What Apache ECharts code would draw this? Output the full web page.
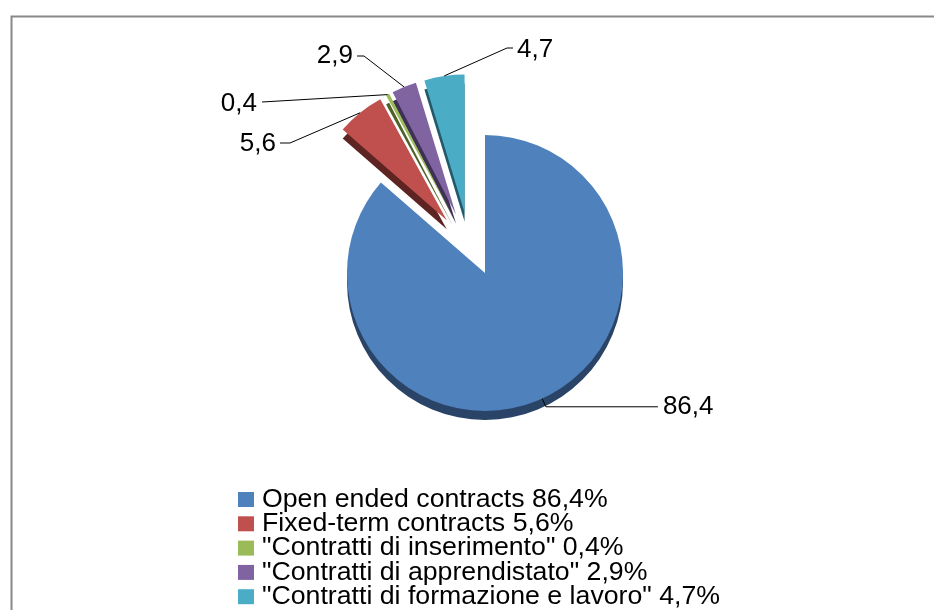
<!DOCTYPE html>
<html><head><meta charset="utf-8">
<script src="https://cdn.jsdelivr.net/npm/echarts@6/dist/echarts.min.js"></script>
<style>html,body{margin:0;padding:0;background:#fff}#c{width:934px;height:610px}</style>
</head><body><div id="c"></div>
<script>
// ---- data ----
const categories = [
  'Open ended contracts',
  'Fixed-term contracts',
  '"Contratti di inserimento"',
  '"Contratti di apprendistato"',
  '"Contratti di formazione e lavoro"'
];
const shares = [86.4, 5.6, 0.4, 2.9, 4.7];

// ---- styles ----
const topColors  = ['#4f81bd', '#c0504d', '#9bbb59', '#8064a2', '#4bacc6'];
const sideColors = ['#2a4468', '#5e2422', '#4e6127', '#3e3155', '#24596b'];
const FONT = '"Liberation Sans", Arial, sans-serif';
const fmt = v => v.toFixed(1).replace('.', ',');
const CLEAR = 'rgba(0,0,0,0)';

// layout of the two pie groups (main slice / exploded small slices)
const mainCenter = [485, 273];
const smallCenter = [470, 249];
const R = 138, DEPTH = 9, EXPLODE = 37;

// label placement for the exploded slices
const smallLabels = {
  1: {x: 276, y: 144, align: 'right', line: [[290, 143], [280, 143]]},
  2: {x: 257, y: 104, align: 'right', line: [[262, 102]]},
  3: {x: 353, y: 56,  align: 'right', line: [[364, 56], [357, 56]]},
  4: {x: 517, y: 50,  align: 'left',  line: [[507, 48], [513, 48]]}
};

function pieData(which, colors, withLabels) {
  return categories.map((n, i) => {
    const isMainItem = i === 0;
    const visible = which === 'main' ? isMainItem : (which === 'small' ? !isMainItem : false);
    const labelled = which === 'labels' ? !isMainItem : (withLabels && visible);
    return {
      name: n,
      value: shares[i],
      selected: which === 'small' && !isMainItem,
      itemStyle: {color: visible ? colors[i] : CLEAR},
      label: {show: labelled},
      labelLine: {show: labelled}
    };
  });
}

const common = {
  type: 'pie', radius: R, startAngle: 90, clockwise: true,
  avoidLabelOverlap: false, silent: true, animation: false,
  selectedMode: 'multiple',
  emphasis: {disabled: true},
  label: {position: 'outside', fontSize: 26, fontFamily: FONT, color: '#000',
          formatter: p => fmt(p.value), distanceToLabelLine: 5},
  labelLine: {smooth: false, lineStyle: {color: '#000', width: 1}},
  itemStyle: {borderWidth: 0}
};

const option = {
  backgroundColor: '#fff',
  animation: false,
  graphic: [{
    type: 'rect', left: 9, top: 14, silent: true,
    shape: {x: 0, y: 0, width: 960, height: 640},
    style: {fill: 'none', stroke: '#888', lineWidth: 2}
  }],
  legend: {
    orient: 'vertical', left: 238, top: 486, height: 200, padding: 0, selectedMode: false,
    icon: 'rect', itemWidth: 16, itemHeight: 15, itemGap: -2.7,
    textStyle: {fontSize: 26.7, fontFamily: FONT, color: '#000', padding: [0, 0, 0, 3]},
    formatter: name => name + ' ' + fmt(shares[categories.indexOf(name)]) + '%',
    data: categories.map((n, i) => ({name: n, itemStyle: {color: topColors[i], opacity: 1}}))
  },
  series: [
    Object.assign({}, common, {
      center: [mainCenter[0], mainCenter[1] + DEPTH], z: 1,
      data: pieData('main', sideColors, false)
    }),
    Object.assign({}, common, {
      center: mainCenter, z: 2,
      labelLine: {smooth: false, length: 9, length2: 112, lineStyle: {color: '#000', width: 1}},
      data: pieData('main', topColors, true)
    }),
    Object.assign({}, common, {
      center: [smallCenter[0], smallCenter[1] + DEPTH], z: 3, selectedOffset: EXPLODE,
      data: pieData('small', sideColors, false)
    }),
    Object.assign({}, common, {
      center: smallCenter, z: 4, selectedOffset: EXPLODE,
      data: pieData('small', topColors, false)
    }),
    // labels of the exploded slices (sectors transparent, not offset)
    Object.assign({}, common, {
      center: smallCenter, z: 5,
      data: pieData('labels', topColors, true),
      labelLayout: function (p) {
        const L = smallLabels[p.dataIndex];
        if (!L || !p.labelLinePoints) return {};
        const e0 = p.labelLinePoints[0];
        const dx = (e0[0] - smallCenter[0]) / R, dy = (e0[1] - smallCenter[1]) / R;
        const edge = [e0[0] + EXPLODE * dx, e0[1] + EXPLODE * dy];
        return {x: L.x, y: L.y, align: L.align, verticalAlign: 'middle',
                labelLinePoints: [edge].concat(L.line)};
      }
    })
  ]
};

const chart = echarts.init(document.getElementById('c'), null, {renderer: 'canvas'});
chart.setOption(option);
</script>
</body></html>
